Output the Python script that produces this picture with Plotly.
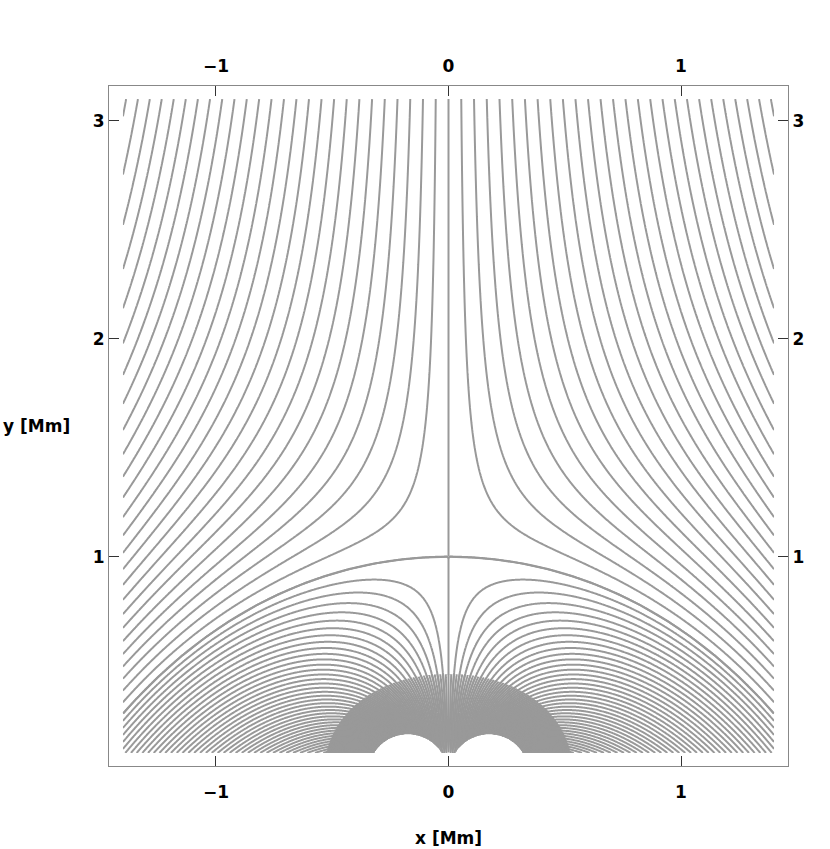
import numpy as np
import plotly.graph_objects as go

# ---- model parameters ----
SOURCE_X = [-0.175, 0.175]      # positions of the two flux sources [Mm]
SOURCE_Y = [0.02, 0.02]
SOURCE_Q = [1.0, 1.0]           # relative strengths
NULL_Y = 1.0                    # height of the X-point on x = 0 [Mm]
SOURCE_RADIUS = 0.165           # lines stop on circles of this radius
X_LIMITS = [-1.4, 1.4]          # extent of the drawn field lines
Y_LIMITS = [0.1, 3.1]
FLUX_STEP_OPEN = 0.073          # flux between neighbouring lines above the dome
FLUX_STEP_CLOSED = 0.046        # flux between neighbouring lines under the dome
CORE_LEVEL = 4.2                # extra (denser) lines where sum(q/r) exceeds this
CORE_SUBDIV = 2

X_TICKS = [-1, 0, 1]
X_TICK_TEXT = ["\u22121", "0", "1"]
Y_TICKS = [1, 2, 3]
Y_TICK_TEXT = ["1", "2", "3"]
X_RANGE = [-1.46, 1.46]
Y_RANGE = [0.04, 3.16]

xs = np.array(SOURCE_X)
ys = np.array(SOURCE_Y)
qs = np.array(SOURCE_Q)
# uniform background field chosen so that the null sits at (0, NULL_Y)
b0 = float(np.sum(qs * (NULL_Y - ys) / (xs ** 2 + (NULL_Y - ys) ** 2)))


def flux(px, py):
    out = b0 * px
    for x0, y0, q in zip(xs, ys, qs):
        out = out + q * np.arctan2(py - y0, px - x0)
    return out


def field(px, py):
    bx = np.zeros_like(px)
    by = np.full_like(px, -b0)
    for x0, y0, q in zip(xs, ys, qs):
        dx = px - x0
        dy = py - y0
        r2 = dx * dx + dy * dy
        bx += q * dx / r2
        by += q * dy / r2
    return bx, by


psi_null = float(flux(np.array(0.0), np.array(NULL_Y)))


def line_index(GX, GY):
    g = (flux(GX, GY) - psi_null) * np.where(GX < 0, 1.0, -1.0)   # >0 under the dome
    idx = np.where(g > 0, g / FLUX_STEP_CLOSED, g / FLUX_STEP_OPEN)
    for x0, y0 in zip(xs, ys):
        idx[(GX - x0) ** 2 + (GY - y0) ** 2 < SOURCE_RADIUS ** 2] = np.nan
    return idx


# ---- field lines as contours of the flux function ----
gx = np.linspace(X_LIMITS[0], X_LIMITS[1], 700)
s = np.linspace(0.0, 1.0, 650)
gy = Y_LIMITS[0] + (Y_LIMITS[1] - Y_LIMITS[0]) * s ** 1.5
GX, GY = np.meshgrid(gx, gy)
main_index = line_index(GX, GY)

# dense core around the sources
cx = np.linspace(-0.7, 0.7, 500)
cy = np.linspace(Y_LIMITS[0], 0.6, 180)
CX, CY = np.meshgrid(cx, cy)
core_index = line_index(CX, CY)
strength = np.zeros_like(CX)
for x0, y0, q in zip(xs, ys, qs):
    strength += q / np.hypot(CX - x0, CY - y0)
core_index[strength < CORE_LEVEL] = np.nan


# ---- separatrices traced from the null ----
def direction(px, py, sgn):
    bx, by = field(px, py)
    b = np.hypot(bx, by) + 1e-12
    return sgn * bx / b, sgn * by / b


def trace(sx, sy, sgn, ds=0.004, nmax=1400):
    px = np.array(sx, float)
    py = np.array(sy, float)
    sgn = np.array(sgn, float)
    alive = np.ones(px.size, bool)
    hx, hy = [px.copy()], [py.copy()]
    pdx, pdy = direction(px, py, sgn)
    for _ in range(nmax):
        k1x, k1y = direction(px, py, sgn)
        k2x, k2y = direction(px + 0.5 * ds * k1x, py + 0.5 * ds * k1y, sgn)
        k3x, k3y = direction(px + 0.5 * ds * k2x, py + 0.5 * ds * k2y, sgn)
        k4x, k4y = direction(px + ds * k3x, py + ds * k3y, sgn)
        sx_ = (k1x + 2 * k2x + 2 * k3x + k4x) / 6
        sy_ = (k1y + 2 * k2y + 2 * k3y + k4y) / 6
        nx, ny = px + ds * sx_, py + ds * sy_
        dead = (nx < X_LIMITS[0]) | (nx > X_LIMITS[1]) | (ny < Y_LIMITS[0]) | (ny > Y_LIMITS[1])
        for x0, y0 in zip(xs, ys):
            dead |= (nx - x0) ** 2 + (ny - y0) ** 2 < SOURCE_RADIUS ** 2
        dead |= (sx_ * pdx + sy_ * pdy) < 0
        alive &= ~dead
        px, py = np.where(alive, nx, px), np.where(alive, ny, py)
        pdx, pdy = sx_, sy_
        hx.append(np.where(alive, px, np.nan))
        hy.append(np.where(alive, py, np.nan))
        if not alive.any():
            break
    return np.array(hx), np.array(hy)


eps = 2e-3
HX, HY = trace([0.0, 0.0, -eps, eps],
               [Y_LIMITS[1] - 1e-6, NULL_Y - eps, NULL_Y, NULL_Y],
               [1.0, -1.0, 1.0, 1.0])
sep_x, sep_y = [], []
for j in range(HX.shape[1]):
    ok = ~np.isnan(HX[:, j])
    sep_x.extend(np.round(HX[ok, j][::2], 4).tolist() + [None])
    sep_y.extend(np.round(HY[ok, j][::2], 4).tolist() + [None])

LINE_COLOR = "#999999"
fig = go.Figure()
fig.add_trace(go.Contour(
    x=np.round(gx, 5), y=np.round(gy, 5), z=np.round(main_index, 3),
    contours=dict(start=-60, end=100, size=1, coloring="lines"),
    colorscale=[[0, LINE_COLOR], [1, LINE_COLOR]],
    showscale=False, connectgaps=False,
    line=dict(width=2, smoothing=0.6), hoverinfo="skip",
))
fig.add_trace(go.Contour(
    x=np.round(cx, 5), y=np.round(cy, 5), z=np.round(core_index, 3),
    contours=dict(start=-60, end=100, size=1.0 / CORE_SUBDIV, coloring="lines"),
    colorscale=[[0, LINE_COLOR], [1, LINE_COLOR]],
    showscale=False, connectgaps=False,
    line=dict(width=2, smoothing=0.6), hoverinfo="skip",
))
fig.add_trace(go.Scatter(x=sep_x, y=sep_y, mode="lines",
                         line=dict(color=LINE_COLOR, width=2),
                         hoverinfo="skip", showlegend=False))
fig.add_trace(go.Scatter(x=[None], y=[None], xaxis="x2", yaxis="y2",
                         showlegend=False, hoverinfo="skip"))

FONT = "DejaVu Sans"
tickfont = dict(family=FONT, size=17, color="black", weight="bold")
axcommon = dict(showline=True, linecolor="#888888", linewidth=1, ticks="inside",
                ticklen=10, tickcolor="#333333", tickwidth=1, showgrid=False,
                zeroline=False, tickfont=tickfont, automargin=False)

fig.update_layout(
    width=830, height=849,
    margin=dict(l=109, r=42, t=86, b=83),
    paper_bgcolor="white", plot_bgcolor="white",
    showlegend=False,
    xaxis=dict(range=X_RANGE, tickvals=X_TICKS, ticktext=X_TICK_TEXT,
               ticklabelstandoff=11, **axcommon),
    yaxis=dict(range=Y_RANGE, tickvals=Y_TICKS, ticktext=Y_TICK_TEXT,
               ticklabelstandoff=0, **axcommon),
    xaxis2=dict(range=X_RANGE, tickvals=X_TICKS, ticktext=X_TICK_TEXT,
                overlaying="x", side="top", ticklabelstandoff=6, **axcommon),
    yaxis2=dict(range=Y_RANGE, tickvals=Y_TICKS, ticktext=Y_TICK_TEXT,
                overlaying="y", side="right", ticklabelstandoff=0, **axcommon),
    annotations=[
        dict(text="x [Mm]", x=0.5, y=-0.106, xref="paper", yref="paper",
             xanchor="center", yanchor="middle", showarrow=False,
             font=dict(family=FONT, size=17, color="black", weight="bold")),
        dict(text="y [Mm]", x=-0.1065, y=0.5, xref="paper", yref="paper",
             xanchor="center", yanchor="middle", showarrow=False,
             font=dict(family=FONT, size=17, color="black", weight="bold")),
    ],
)

fig.write_html("out.html", config={"displayModeBar": False},
               post_script="document.body.style.margin='0px';"
                           "document.documentElement.style.overflow='hidden';")
